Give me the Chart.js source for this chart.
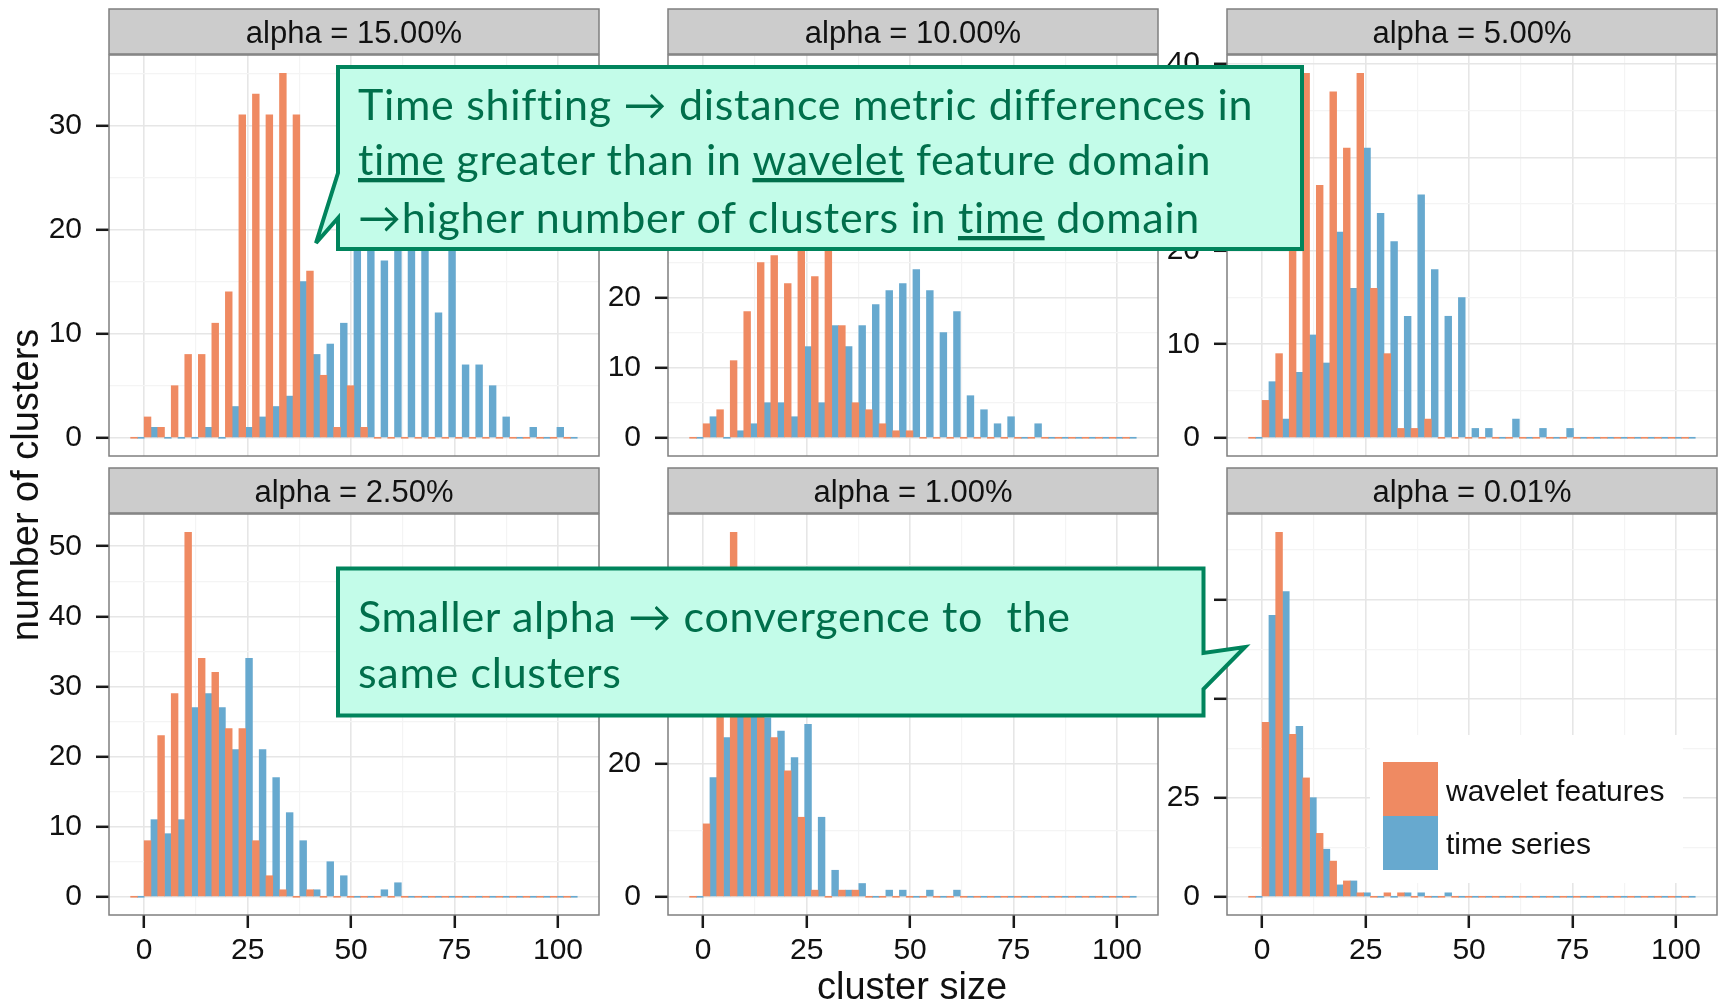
<!DOCTYPE html>
<html>
<head>
<meta charset="utf-8">
<title>cluster size histograms</title>
<script src="https://cdn.jsdelivr.net/npm/chart.js@4.4.1/dist/chart.umd.min.js"></script>
<style>
  html, body { margin: 0; padding: 0; background: #fff; }
  #page { position: relative; width: 1719px; height: 1002px; overflow: hidden; }
  #page canvas { position: absolute; }
  #overlay { position: absolute; left: 0; top: 0; }
  .gg { font-family: "Liberation Sans", Arial, sans-serif; fill: #111; }
  .note { font-family: Lato, "Open Sans", sans-serif; font-size: 43px; letter-spacing: 0.7px; fill: #006F4B; white-space: pre; }
  .ul { text-decoration: underline; }
</style>
</head>
<body>
<div id="page">
  <svg id="overlay" width="1719" height="1002" xmlns="http://www.w3.org/2000/svg">
    <g id="strips"></g>

    <text class="gg" x="38" y="485" font-size="38" text-anchor="middle" transform="rotate(-90 38 485)">number of clusters</text>
    <text class="gg" x="912" y="999" font-size="38" text-anchor="middle">cluster size</text>

    <g id="legend"></g>

    <path d="M338,67 H1302 V249 H338 V218 L316,243 L338,173 Z" fill="#C3FCE9" stroke="#00845C" stroke-width="4" stroke-linejoin="miter"/>
    <text class="note" x="358" y="120">Time shifting → distance metric differences in</text>
    <text class="note" x="358" y="175"><tspan class="ul">time</tspan> greater than in <tspan class="ul">wavelet</tspan> feature domain</text>
    <text class="note" x="358" y="233">→higher number of clusters in <tspan class="ul">time</tspan> domain</text>

    <path d="M338,568.5 H1203.5 V653 L1245,647 L1203.5,689 V715.5 H338 Z" fill="#C3FCE9" stroke="#00845C" stroke-width="4" stroke-linejoin="miter"/>
    <text class="note" x="358" y="632">Smaller alpha → convergence to  the</text>
    <text class="note" x="358" y="688">same clusters</text>
  </svg>
</div>
<script>
// histogram bins (width 3.27), from the empty bin just below zero up to past 100
const binCenters = [-1.635, 1.635, 4.905, 8.175, 11.445, 14.715, 17.985, 21.255, 24.525, 27.795,
  31.065, 34.335, 37.605, 40.875, 44.145, 47.415, 50.685, 53.955, 57.225, 60.495, 63.765,
  67.035, 70.305, 73.575, 76.845, 80.115, 83.385, 86.655, 89.925, 93.195, 96.465, 99.735, 103.005];

const seriesNames = ['wavelet features', 'time series'];
const seriesColors = ['#EF8A62', '#67A9CF'];

const alphaTitles = ['alpha = 15.00%', 'alpha = 10.00%', 'alpha = 5.00%',
                     'alpha = 2.50%', 'alpha = 1.00%', 'alpha = 0.01%'];
const yMajorSteps = [10, 10, 10, 10, 20, 25];
const xTickValues = [0, 25, 50, 75, 100];

// number of clusters per bin
const wavelet15 = [0, 2, 1, 5, 8, 8, 11, 14, 31, 33, 31, 35, 31, 16, 6, 1, 5, 1, 0, 0, 0, 0, 0, 0, 0, 0, 0, 0, 0, 0, 0, 0, 0];
const series15  = [0, 1, 0, 0, 0, 1, 0, 3, 1, 2, 3, 4, 15, 8, 9, 11, 22, 24, 17, 20, 23, 21, 12, 19, 7, 7, 5, 2, 0, 1, 0, 1, 0];

const wavelet10 = [0, 2, 4, 11, 18, 25, 26, 22, 52, 23, 29, 16, 5, 4, 2, 1, 1, 0, 0, 0, 0, 0, 0, 0, 0, 0, 0, 0, 0, 0, 0, 0, 0];
const series10  = [0, 3, 0, 1, 2, 5, 5, 3, 13, 5, 16, 13, 16, 19, 21, 22, 24, 21, 15, 18, 6, 4, 2, 3, 0, 2, 0, 0, 0, 0, 0, 0, 0];

const wavelet5 = [0, 4, 9, 24, 39, 27, 37, 31, 39, 16, 9, 1, 1, 2, 0, 0, 0, 0, 0, 0, 0, 0, 0, 0, 0, 0, 0, 0, 0, 0, 0, 0, 0];
const series5  = [0, 6, 2, 7, 11, 8, 22, 16, 31, 24, 21, 13, 26, 18, 13, 15, 1, 1, 0, 2, 0, 1, 0, 1, 0, 0, 0, 0, 0, 0, 0, 0, 0];

const wavelet2_5 = [0, 8, 23, 29, 52, 34, 32, 24, 24, 8, 3, 1, 0, 1, 0, 0, 0, 0, 0, 0, 0, 0, 0, 0, 0, 0, 0, 0, 0, 0, 0, 0, 0];
const series2_5  = [0, 11, 9, 11, 27, 29, 27, 21, 34, 21, 17, 12, 8, 1, 5, 3, 0, 0, 1, 2, 0, 0, 0, 0, 0, 0, 0, 0, 0, 0, 0, 0, 0];

const wavelet1 = [0, 11, 30, 55, 32, 30, 24, 19, 12, 1, 0, 1, 1, 0, 0, 0, 0, 0, 0, 0, 0, 0, 0, 0, 0, 0, 0, 0, 0, 0, 0, 0, 0];
const series1  = [0, 18, 24, 28, 29, 27, 25, 21, 26, 12, 4, 1, 2, 0, 1, 1, 0, 1, 0, 1, 0, 0, 0, 0, 0, 0, 0, 0, 0, 0, 0, 0, 0];

const wavelet0_01 = [0, 44, 92, 41, 30, 16, 9, 4, 1, 0, 1, 1, 0, 0, 0, 0, 0, 0, 0, 0, 0, 0, 0, 0, 0, 0, 0, 0, 0, 0, 0, 0, 0];
const series0_01  = [0, 71, 77, 43, 25, 12, 3, 4, 1, 0, 0, 1, 1, 0, 1, 0, 0, 0, 0, 0, 0, 0, 0, 0, 0, 0, 0, 0, 0, 0, 0, 0, 0];

const waveletCounts = [wavelet15, wavelet10, wavelet5, wavelet2_5, wavelet1, wavelet0_01];
const seriesCounts = [series15, series10, series5, series2_5, series1, series0_01];

// facet geometry
const PLOT_W = 490, PLOT_H = 401, Y_AXIS_W = 100, X_AXIS_H = 62, PAD = 3;
const colLeft = [109, 668, 1227];
const rowTop = [55, 514];
const stripTop = [9, 468], STRIP_H = 45;
const X_MIN = -8.5, X_MAX = 109.9;

const GRID_MAJOR = '#E6E6E6', GRID_MINOR = '#F4F4F4', TICK = '#1a1a1a';
const FONT = '"Liberation Sans", Arial, sans-serif';
const SVGNS = 'http://www.w3.org/2000/svg';

const page = document.getElementById('page');
const overlay = document.getElementById('overlay');

const panelBorder = {
  id: 'panelBorder',
  afterDatasetsDraw(chart) {
    const { ctx, chartArea: a } = chart;
    ctx.save();
    ctx.strokeStyle = '#7F7F7F';
    ctx.lineWidth = 1.5;
    ctx.strokeRect(a.left, a.top, a.right - a.left, a.bottom - a.top);
    ctx.restore();
  }
};

function svgEl(tag, attrs, text) {
  const el = document.createElementNS(SVGNS, tag);
  for (const k in attrs) el.setAttribute(k, attrs[k]);
  if (text) el.textContent = text;
  return el;
}

function makePanel(i) {
  const col = i % 3, row = Math.floor(i / 3), bottom = row === 1;
  const wav = waveletCounts[i], ts = seriesCounts[i], major = yMajorSteps[i];
  const top = Math.max(...wav, ...ts);

  // strip with the facet label
  const strips = document.getElementById('strips');
  strips.appendChild(svgEl('rect', { x: colLeft[col], y: stripTop[row], width: PLOT_W, height: STRIP_H,
    fill: '#CCCCCC', stroke: '#7F7F7F', 'stroke-width': 1.5 }));
  strips.appendChild(svgEl('text', { class: 'gg', x: colLeft[col] + PLOT_W / 2, y: stripTop[row] + 33.5,
    'font-size': 31, 'text-anchor': 'middle' }, alphaTitles[i]));

  const canvas = document.createElement('canvas');
  canvas.width = Y_AXIS_W + PLOT_W + PAD;
  canvas.height = PAD + PLOT_H + (bottom ? X_AXIS_H : PAD);
  canvas.style.left = (colLeft[col] - Y_AXIS_W) + 'px';
  canvas.style.top = (rowTop[row] - PAD) + 'px';
  page.insertBefore(canvas, overlay);

  const isMajorX = v => xTickValues.includes(v);
  const isMajorY = v => Math.abs(v % major) < 1e-9;

  new Chart(canvas, {
    type: 'bar',
    data: {
      labels: binCenters,
      datasets: [
        { label: seriesNames[0], data: wav, backgroundColor: seriesColors[0] },
        { label: seriesNames[1], data: ts, backgroundColor: seriesColors[1] }
      ]
    },
    options: {
      responsive: false,
      animation: false,
      events: [],
      layout: { padding: { top: PAD, right: PAD, bottom: bottom ? 0 : PAD, left: 0 } },
      datasets: { bar: { categoryPercentage: 1, barPercentage: 1, borderWidth: 0, minBarLength: 1 } },
      plugins: { legend: { display: false }, tooltip: { enabled: false } },
      scales: {
        x: {
          type: 'linear', min: X_MIN, max: X_MAX, offset: false,
          border: { display: false },
          grid: {
            offset: false,
            color: c => isMajorX(c.tick.value) ? GRID_MAJOR : GRID_MINOR,
            lineWidth: c => isMajorX(c.tick.value) ? 1.6 : 1.2,
            drawTicks: bottom, tickLength: 13, tickWidth: 2.5,
            tickColor: c => isMajorX(c.tick.value) ? TICK : 'rgba(0,0,0,0)'
          },
          ticks: {
            display: bottom, stepSize: 12.5, includeBounds: false, autoSkip: false,
            maxRotation: 0, padding: 5, color: '#111', font: { family: FONT, size: 30 },
            callback: v => isMajorX(v) ? String(v) : ''
          },
          afterFit: s => { s.height = bottom ? X_AXIS_H : 0; s.paddingLeft = 0; s.paddingRight = 0; }
        },
        y: {
          min: -0.05 * top, max: 1.05 * top,
          border: { display: false },
          grid: {
            color: c => isMajorY(c.tick.value) ? GRID_MAJOR : GRID_MINOR,
            lineWidth: c => isMajorY(c.tick.value) ? 1.6 : 1.2,
            tickLength: 13, tickWidth: 2.5,
            tickColor: c => isMajorY(c.tick.value) ? TICK : 'rgba(0,0,0,0)'
          },
          ticks: {
            stepSize: major / 2, includeBounds: false, autoSkip: false,
            padding: 14, color: '#111', font: { family: FONT, size: 30 },
            callback: v => isMajorY(v) ? String(v) : ''
          },
          afterFit: s => { s.width = Y_AXIS_W; s.paddingTop = 0; s.paddingBottom = 0; }
        }
      }
    },
    plugins: [panelBorder]
  });
}

for (let i = 0; i < 6; i++) makePanel(i);

// legend inside the last facet
const legend = document.getElementById('legend');
legend.appendChild(svgEl('rect', { x: 1370, y: 735, width: 313, height: 148, fill: '#fff' }));
seriesNames.forEach((name, k) => {
  legend.appendChild(svgEl('rect', { x: 1383, y: 762 + k * 54, width: 55, height: 54, fill: seriesColors[k] }));
  legend.appendChild(svgEl('text', { class: 'gg', x: 1446, y: 801 + k * 53, 'font-size': 30 }, name));
});
</script>
</body>
</html>
